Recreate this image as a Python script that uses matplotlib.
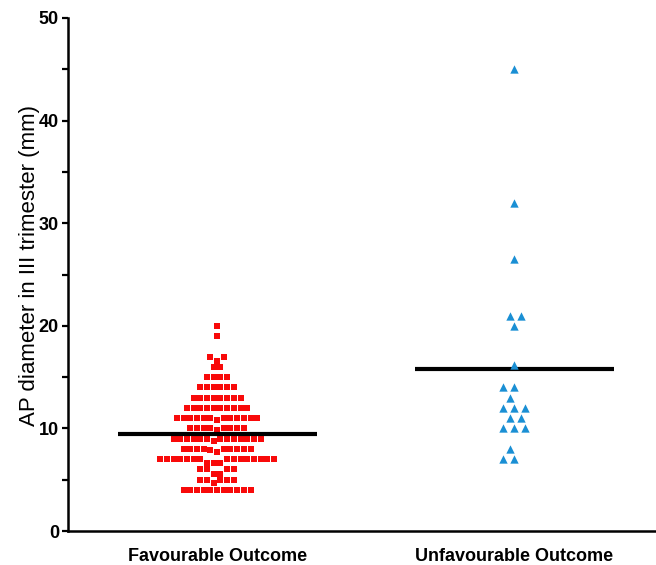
import numpy as np
import matplotlib
matplotlib.use("Agg")
import matplotlib.pyplot as plt

# ---------------- data ----------------
categories = ["Favourable Outcome", "Unfavourable Outcome"]

fav_values = [20, 19, 17, 16.6, 16, 15, 14, 13, 12, 11, 10.8, 10, 9.8, 9, 8.8,
              8, 7.9, 7.7, 7, 6.6, 6, 5.6, 5, 4.7, 4]
fav_counts = [1, 1, 2, 1, 2, 4, 6, 8, 10, 12, 1, 8, 1, 13, 1,
              9, 1, 1, 15, 3, 4, 2, 5, 1, 11]

unfav_values = [45, 32, 26.5, 21, 21, 20, 16.2, 14, 14, 13, 12, 12, 12,
                11, 11, 10, 10, 10, 8, 7, 7]

group_means = [9.45, 15.8]

y_ticks = [0, 10, 20, 30, 40, 50]
y_label = "AP diameter in III trimester (mm)"

# ---------------- figure ----------------
W, H, DPI = 656, 565, 100
fig = plt.figure(figsize=(W / DPI, H / DPI), dpi=DPI)
ax = fig.add_axes([68 / W, 34 / H, (W - 68) / W, (531 - 18) / H])
xlim = (-0.502, 1.478)
ylim = (0, 50)
ax.set_xlim(*xlim)
ax.set_ylim(*ylim)

ax_w_px = W * ax.get_position().width
ax_h_px = H * ax.get_position().height
px_per_x = ax_w_px / (xlim[1] - xlim[0])
px_per_y = ax_h_px / (ylim[1] - ylim[0])


def binned_rows(values, spacing_px):
    """Prism-like column scatter: values binned to rows, centred in each row."""
    vals = np.asarray(values, dtype=float)
    bins = np.round(vals)
    xs = np.zeros(len(vals))
    for b in np.unique(bins):
        idx = np.where(bins == b)[0]
        # off-row values take the central slots
        idx = idx[np.argsort(-np.abs(vals[idx] - b), kind="stable")]
        n = len(idx)
        slots = (np.arange(n) - (n - 1) / 2) * spacing_px
        slot_order = np.argsort(np.abs(slots) + 1e-9 * slots, kind="stable")
        for k, i in enumerate(idx):
            xs[i] = slots[slot_order[k]]
    return xs / px_per_x


def swarm(values, diam_px):
    """Simple beeswarm: returns x offsets in data units."""
    vals = np.asarray(values, dtype=float)
    order = np.argsort(vals, kind="stable")
    ypx = vals * px_per_y
    placed = []
    xs = np.zeros(len(vals))
    for i in order:
        y = ypx[i]
        cands = [0.0]
        for (px, py) in placed:
            dy = abs(py - y)
            if dy < diam_px:
                dx = np.sqrt(diam_px ** 2 - dy ** 2) + 1e-6
                cands += [px - dx, px + dx]
        cands = sorted(cands, key=lambda c: (abs(c), c))
        for c in cands:
            if all((px - c) ** 2 + (py - y) ** 2 >= diam_px ** 2 - 1e-6
                   for (px, py) in placed):
                xs[i] = c
                placed.append((c, y))
                break
    return xs / px_per_x


fav_all = np.repeat(fav_values, fav_counts)
fav_x = 0 + binned_rows(fav_all, 6.7)
unfav_x = 1 + swarm(unfav_values, 11.0)

ax.scatter(fav_x, fav_all, marker="s", s=14, color="#f80a0a", linewidths=0, zorder=3)
ax.scatter(unfav_x, unfav_values, marker="^", s=36, color="#1a8fd4", linewidths=0, zorder=5)

for i, m in enumerate(group_means):
    ax.plot([i - 0.335, i + 0.335], [m, m], color="black", lw=3.0,
            solid_capstyle="butt", zorder=4)

# ---------------- styling ----------------
for s in ["top", "right"]:
    ax.spines[s].set_visible(False)
for s in ["left", "bottom"]:
    ax.spines[s].set_linewidth(1.8)

ax.set_yticks(y_ticks)
ax.set_yticks([5, 15, 25, 35, 45], minor=True)
ax.tick_params(axis="y", which="both", direction="out", length=4.5, width=1.6, pad=2)
ax.set_yticklabels([str(t) for t in y_ticks], fontfamily="Liberation Sans",
                   fontweight="bold", fontsize=13)
ax.set_xticks([0, 1])
ax.set_xticklabels(categories, fontfamily="Liberation Sans",
                   fontweight="bold", fontsize=13)
ax.tick_params(axis="x", length=0, pad=12)

ax.set_ylabel(y_label, fontfamily="Liberation Sans", fontsize=16)
ax.yaxis.set_label_coords(-0.048, 0.518)

fig.savefig("out.png", dpi=DPI)
